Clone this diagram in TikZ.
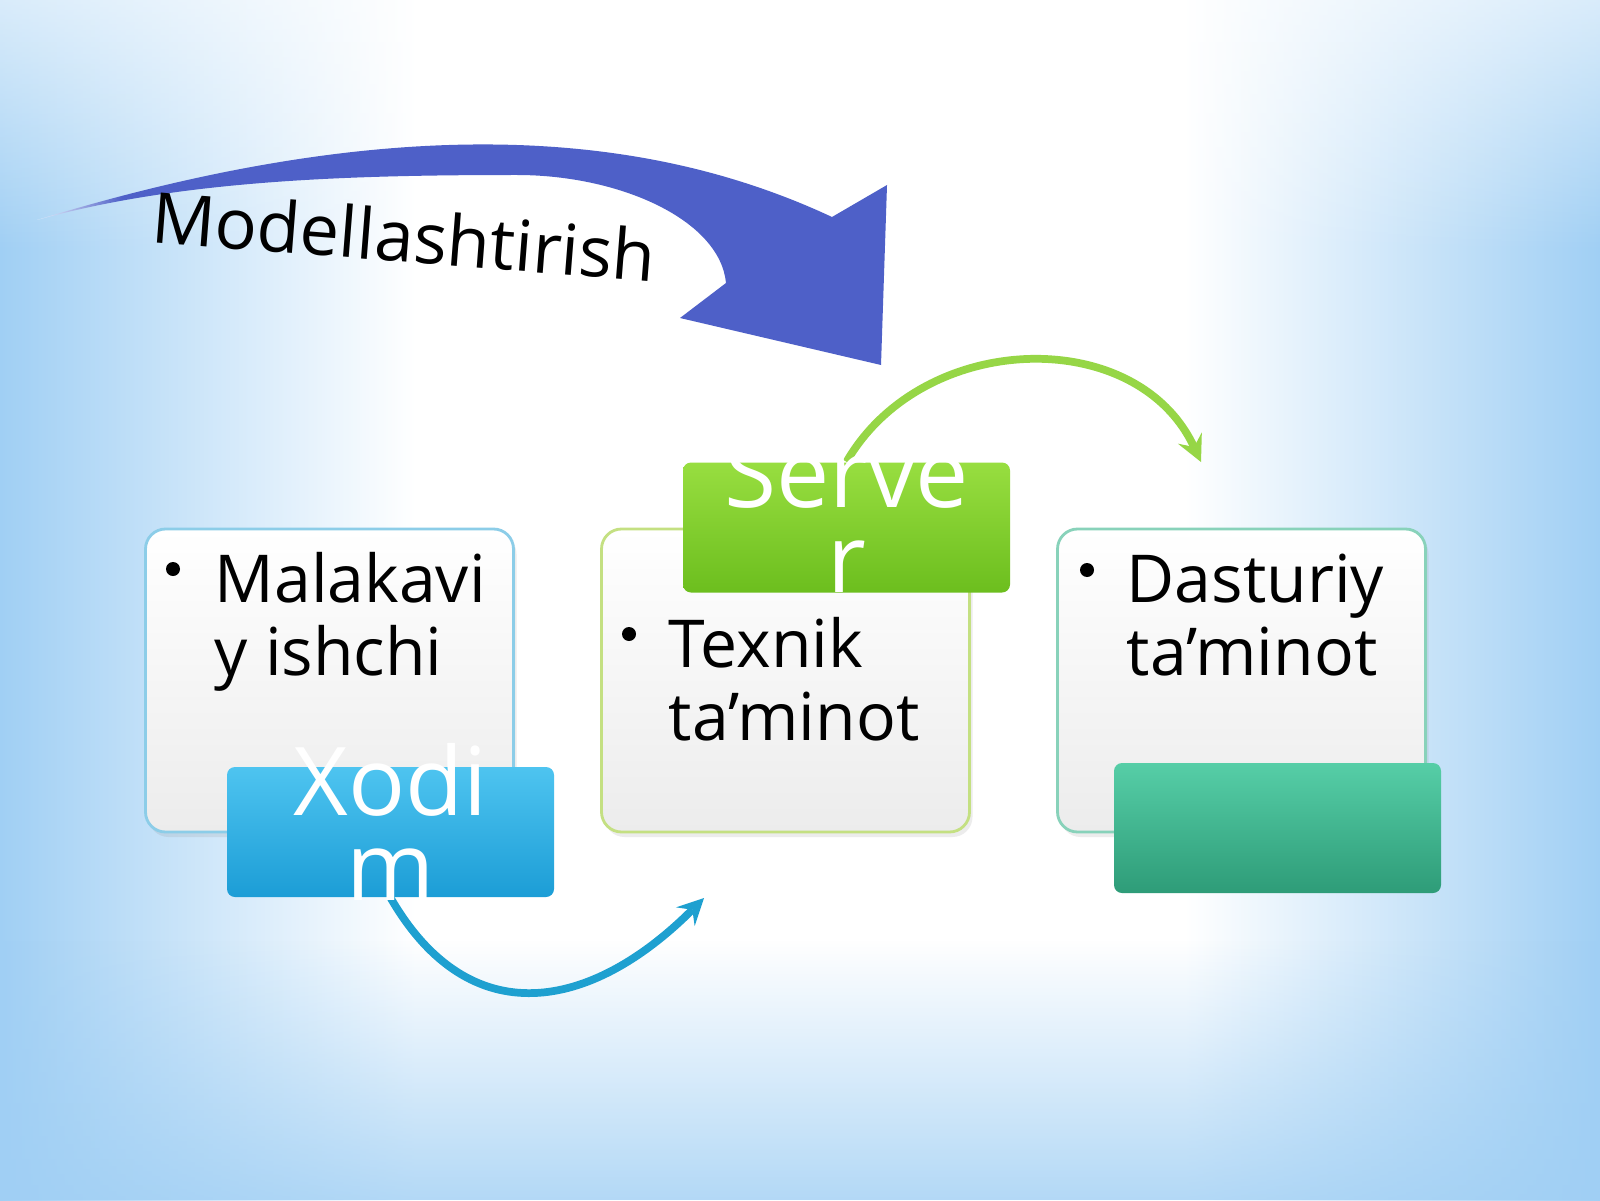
\documentclass[tikz,border=0pt]{standalone}
\usepackage{fontspec}
\setmainfont{Open Sans}
\usetikzlibrary{shadows,fadings}
\tikzset{>=stealth}

\definecolor{bgblue}{RGB}{160,207,244}
\definecolor{bandblue}{RGB}{190,222,248}
\definecolor{arrowblue}{RGB}{78,96,200}
\definecolor{arrowpale}{RGB}{235,240,252}
\definecolor{boxgray}{RGB}{236,236,236}
\definecolor{xodimtop}{RGB}{78,196,240}
\definecolor{xodimbot}{RGB}{28,157,214}
\definecolor{servertop}{RGB}{152,222,64}
\definecolor{serverbot}{RGB}{108,190,30}
\definecolor{tealtop}{RGB}{86,206,167}
\definecolor{tealbot}{RGB}{46,156,120}
\definecolor{edgeblue}{RGB}{140,205,232}
\definecolor{edgegreen}{RGB}{196,224,130}
\definecolor{edgeteal}{RGB}{136,210,186}
\definecolor{arcgreen}{RGB}{150,214,70}
\definecolor{arcblue}{RGB}{30,160,208}

\pgfdeclarehorizontalshading{slidebg}{100bp}{color(0bp)=(bgblue); color(25bp)=(bgblue); color(38bp)=(white); color(62bp)=(white); color(75bp)=(bgblue); color(100bp)=(bgblue)}
\pgfdeclarehorizontalshading{arrowfade}{100bp}{color(0bp)=(arrowpale); color(25bp)=(arrowpale); color(30bp)=(arrowblue); color(100bp)=(arrowblue)}
\tikzfading[name=bandfade, top color=transparent!100, middle color=transparent!40, bottom color=transparent!100]

\tikzset{
  bigbox/.style={draw=#1, line width=0.8pt, rounded corners=0.2cm, top color=white, bottom color=boxgray, minimum width=3.68cm, minimum height=3.03cm, drop shadow={opacity=0.15, shadow xshift=0.03cm, shadow yshift=-0.05cm}},
  tagbox/.style 2 args={rounded corners=0.08cm, top color=#1, bottom color=#2, minimum width=3.27cm, minimum height=1.3cm},
  itemtext/.style={anchor=base west, align=left, inner sep=0pt, font=\fontsize{18.8}{20.5}\selectfont},
  tagtext/.style={anchor=base, align=center, inner sep=0pt, text=white, font=\fontsize{27}{24}\selectfont},
  itemdot/.style={circle, fill=black, inner sep=0pt, minimum size=0.14cm}
}

\begin{document}
\begin{tikzpicture}
\useasboundingbox (0,0) rectangle (16,12);
\shade[shading=slidebg] (0,0) rectangle (16,12);
\fill[bgblue, opacity=0.8, path fading=north] (0,0) rectangle (16,2.6);
\fill[white, opacity=0.6, path fading=south] (0,9.5) rectangle (16,12);
\fill[bandblue, opacity=0.7, path fading=bandfade] (0,4.7) rectangle (16,6.3);
\shade[shading=arrowfade] (0.37,9.80) .. controls (4.23,10.98) and (6.65,10.61) .. (8.32,9.83) -- (8.87,10.15) -- (8.81,8.35) -- (6.80,8.82) -- (7.26,9.17) .. controls (7.2,9.8) and (6.2,10.25) .. (5.17,10.25) .. controls (3.5,10.25) and (1.8,10.2) .. (0.37,9.80) -- cycle;
\node[anchor=base, rotate=-4.5, font=\fontsize{20}{24}\selectfont] (title) at (4.02,9.38) {Modellashtirish};

\node[bigbox=edgeblue] (skill) at (3.295,5.195) {};
\node[bigbox=edgegreen] (hard) at (7.855,5.195) {};
\node[bigbox=edgeteal] (soft) at (12.415,5.195) {};
\node[tagbox={xodimtop}{xodimbot}] (xodim) at (3.905,3.68) {};
\node[tagbox={servertop}{serverbot}] (server) at (8.465,6.725) {};
\node[tagbox={tealtop}{tealbot}] (teal) at (12.775,3.72) {};

\coordinate (bluetip) at (7.04,3.02);
\coordinate (greentip) at (12.01,7.38);
\draw[->, line width=2.2pt, arcblue] (xodim.south) to[out=-60, in=-135, looseness=1.3] (bluetip);
\draw[->, line width=2.2pt, arcgreen] (server.north) to[out=60, in=115, looseness=1.1] (greentip);

\node[itemdot] (skilldot) at (1.73,6.31) {};
\node[itemtext] (skilltext) at (2.14,5.25) {Malakavi\\y ishchi};
\node[itemdot] (harddot) at (6.29,5.66) {};
\node[itemtext] (hardtext) at (6.68,4.60) {Texnik\\ta’minot};
\node[itemdot] (softdot) at (10.87,6.30) {};
\node[itemtext] (softtext) at (11.26,5.25) {Dasturiy\\ta’minot};
\node[tagtext] (xodimtext) at (3.905,3.0) {Xodi\\m};
\node[tagtext] (servertext) at (8.465,6.08) {Serve\\r};
\end{tikzpicture}
\end{document}
